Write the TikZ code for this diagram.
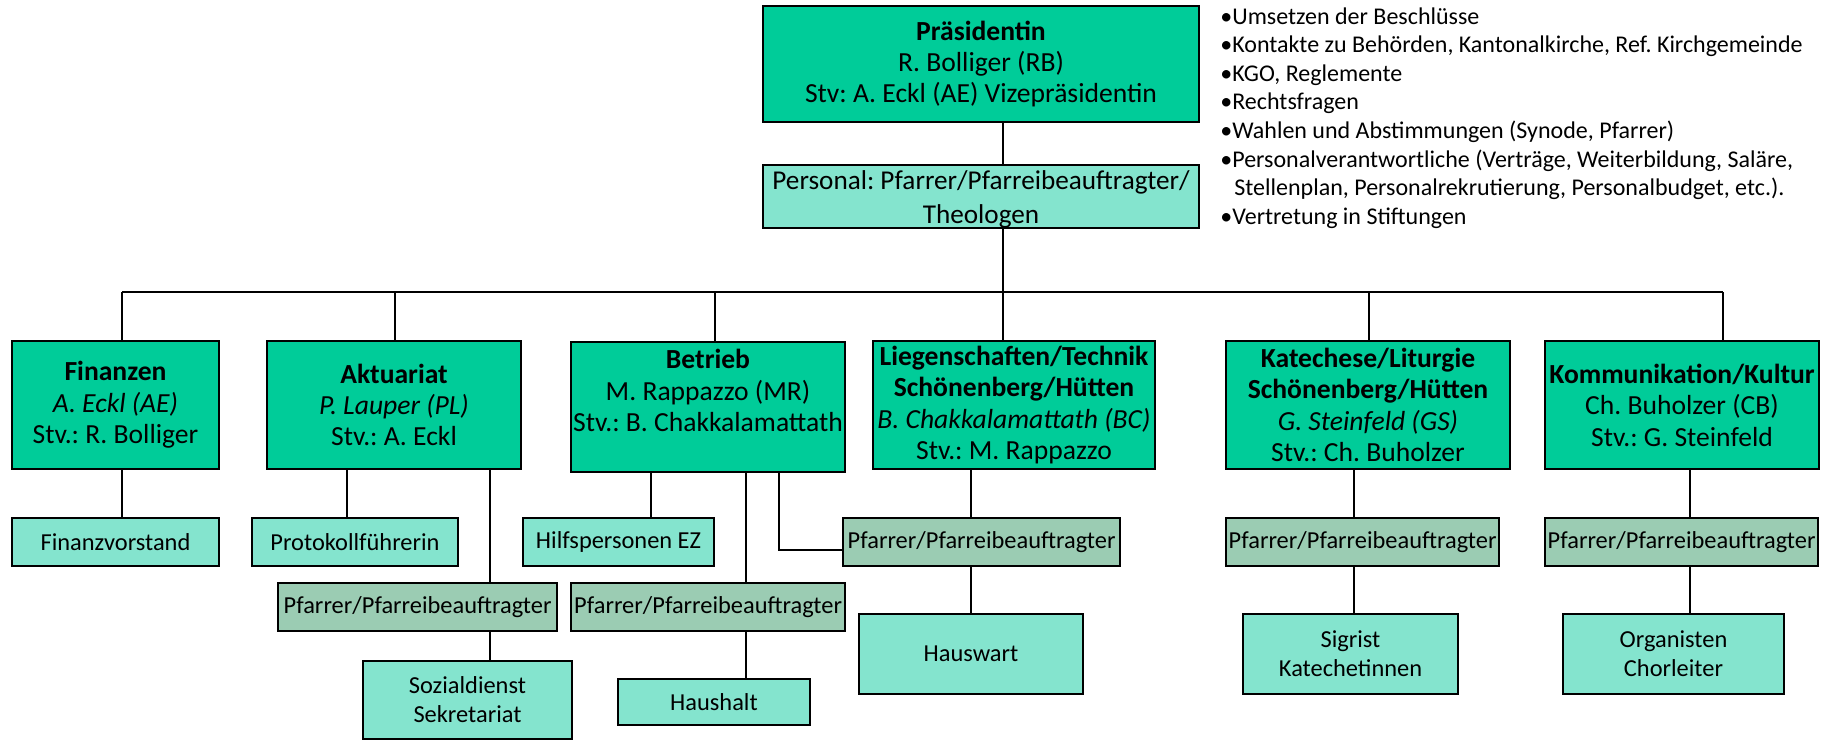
\documentclass[tikz,border=0pt]{standalone}
\usepackage{fontspec}
\setmainfont{Carlito}
\frenchspacing
\definecolor{dg}{RGB}{0,204,153}
\definecolor{lg}{RGB}{132,228,206}
\definecolor{pg}{RGB}{155,204,179}
\tikzset{
  basebox/.style={draw=black, line width=1pt, inner sep=0pt, align=center},
  mainbox/.style={basebox, fill=dg, font=\fontsize{13.8}{15.7}\selectfont},
  persbox/.style={basebox, fill=lg, font=\fontsize{13.6}{17}\selectfont},
  lightbox/.style={basebox, fill=lg, font=\fontsize{12.2}{14.5}\selectfont},
  pfbox/.style={basebox, fill=pg, font=\fontsize{12.2}{14}\selectfont},
  conn/.style={line width=0.75pt},
  bul/.style={anchor=base west, inner sep=0pt, font=\fontsize{12}{14}\selectfont}
}
\newcommand\bx[7]{%
  \pgfmathsetmacro\bxw{(#4-#2)*0.5}%
  \pgfmathsetmacro\bxh{(#5-#3)*0.5}%
  \node[#6, minimum width=\bxw pt, minimum height=\bxh pt] (#1) at ({(#2+#4)/2},{(#3+#5)/2}) {#7};}
\begin{document}
\begin{tikzpicture}[x=0.5pt, y=-0.5pt]
\useasboundingbox (0,0) rectangle (1826,740);
% top
\bx{pres}{763}{6}{1199}{122}{mainbox}{\textbf{Präsidentin}\\R. Bolliger (RB)\\Stv: A. Eckl (AE) Vizepräsidentin}
\bx{pers}{763}{165}{1199}{228}{persbox}{\strut Personal: Pfarrer/Pfarreibeauftragter/\\Theologen}
% bullets
\node[bul] (b1) at (1220,24) {•Umsetzen der Beschlüsse};
\node[bul] (b2) at (1220,52.6) {•Kontakte zu Behörden, Kantonalkirche, Ref. Kirchgemeinde};
\node[bul] (b3) at (1220,81.2) {•KGO, Reglemente};
\node[bul] (b4) at (1220,109.8) {•Rechtsfragen};
\node[bul] (b5) at (1220,138.4) {•Wahlen und Abstimmungen (Synode, Pfarrer)};
\node[bul] (b6) at (1220,167) {•Personalverantwortliche (Verträge, Weiterbildung, Saläre,};
\node[bul] (b7) at (1234,195.6) {Stellenplan, Personalrekrutierung, Personalbudget, etc.).};
\node[bul] (b8) at (1220,224.2) {•Vertretung in Stiftungen};
% level 2
\bx{fin}{12}{341}{219}{469}{mainbox}{\textbf{Finanzen}\\\textit{A. Eckl (AE)}\\Stv.: R. Bolliger}
\bx{akt}{267}{341}{521}{469}{mainbox}{\textbf{Aktuariat}\\\textit{P. Lauper (PL)}\\Stv.: A. Eckl}
\bx{betr}{571}{342}{845}{472}{mainbox}{\textbf{Betrieb}\\M. Rappazzo (MR)\\Stv.: B. Chakkalamattath\\[-4pt]\strut}
\bx{lieg}{873}{341}{1155}{469}{mainbox}{\textbf{Liegenschaften/Technik}\\\textbf{Schönenberg/Hütten}\\\textit{B. Chakkalamattath (BC)}\\Stv.: M. Rappazzo}
\bx{kat}{1226}{341}{1510}{469}{mainbox}{\textbf{Katechese/Liturgie}\\\textbf{Schönenberg/Hütten}\\\textit{G. Steinfeld (GS)}\\Stv.: Ch. Buholzer}
\bx{komm}{1545}{341}{1819}{469}{mainbox}{\textbf{Kommunikation/Kultur}\\Ch. Buholzer (CB)\\Stv.: G. Steinfeld}
% level 3
\bx{finv}{12}{518}{219}{566}{lightbox}{Finanzvorstand}
\bx{prot}{252}{518}{458}{566}{lightbox}{Protokollführerin}
\bx{pfA}{278}{583}{557}{631}{pfbox}{Pfarrer/Pfarreibeauftragter}
\bx{sozi}{363}{661}{572}{739}{lightbox}{Sozialdienst\\Sekretariat}
\bx{hilf}{523}{518}{714}{566}{lightbox}{Hilfspersonen EZ}
\bx{pfB}{571}{583}{845}{631}{pfbox}{Pfarrer/Pfarreibeauftragter}
\bx{haus}{618}{679}{810}{725}{lightbox}{Haushalt}
\bx{pfL}{843}{518}{1120}{566}{pfbox}{Pfarrer/Pfarreibeauftragter}
\bx{hausw}{859}{614}{1083}{694}{lightbox}{Hauswart}
\bx{pfK}{1226}{518}{1499}{566}{pfbox}{Pfarrer/Pfarreibeauftragter}
\bx{sig}{1243}{614}{1458}{694}{lightbox}{Sigrist\\Katechetinnen}
\bx{pfM}{1545}{518}{1818}{566}{pfbox}{Pfarrer/Pfarreibeauftragter}
\bx{org}{1563}{614}{1784}{694}{lightbox}{Organisten\\Chorleiter}
% connector x positions
\coordinate (xtop) at (1003,292);
\coordinate (x1) at (122,292);
\coordinate (x2) at (395,292);
\coordinate (x3) at (715,292);
\coordinate (x5) at (1369,292);
\coordinate (x6) at (1723,292);
\coordinate (xprot) at (347,0);
\coordinate (xakt) at (490,0);
\coordinate (xhilf) at (651,0);
\coordinate (xpfB) at (746,0);
\coordinate (elb) at (779,550);
\coordinate (xlieg) at (971,0);
\coordinate (xkat) at (1354,0);
\coordinate (xkomm) at (1690,0);
% connectors
\draw[conn] (pres.south -| xtop) -- (pers.north -| xtop);
\draw[conn] (pers.south -| xtop) -- (xtop);
\draw[conn] (x1) -- (x6);
\draw[conn] (x1) -- (x1 |- fin.north);
\draw[conn] (x2) -- (x2 |- akt.north);
\draw[conn] (x3) -- (x3 |- betr.north);
\draw[conn] (xtop) -- (xtop |- lieg.north);
\draw[conn] (x5) -- (x5 |- kat.north);
\draw[conn] (x6) -- (x6 |- komm.north);
\draw[conn] (fin.south -| x1) -- (finv.north -| x1);
\draw[conn] (akt.south -| xprot) -- (prot.north -| xprot);
\draw[conn] (akt.south -| xakt) -- (pfA.north -| xakt);
\draw[conn] (pfA.south -| xakt) -- (sozi.north -| xakt);
\draw[conn] (betr.south -| xhilf) -- (hilf.north -| xhilf);
\draw[conn] (betr.south -| xpfB) -- (pfB.north -| xpfB);
\draw[conn] (pfB.south -| xpfB) -- (haus.north -| xpfB);
\draw[conn] (betr.south -| elb) -- (elb) -- (pfL.west |- elb);
\draw[conn] (lieg.south -| xlieg) -- (pfL.north -| xlieg);
\draw[conn] (pfL.south -| xlieg) -- (hausw.north -| xlieg);
\draw[conn] (kat.south -| xkat) -- (pfK.north -| xkat);
\draw[conn] (pfK.south -| xkat) -- (sig.north -| xkat);
\draw[conn] (komm.south -| xkomm) -- (pfM.north -| xkomm);
\draw[conn] (pfM.south -| xkomm) -- (org.north -| xkomm);
\end{tikzpicture}
\end{document}
